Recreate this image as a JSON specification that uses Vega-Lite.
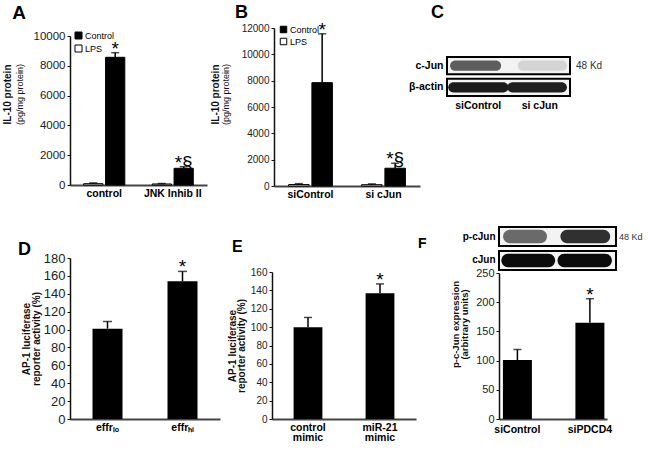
{
"$schema":"https://vega.github.io/schema/vega-lite/v6.json",
"width":649,"height":449,"autosize":{"type":"none"},"padding":0,"background":"white",
"config":{"font":"Liberation Sans","view":{"stroke":null},
 "axis":{"grid":false,"labelFont":"Liberation Sans","titleFont":"Liberation Sans","labelColor":"#222","titleColor":"#111","domainColor":"#111","tickColor":"#111"},
 "legend":{"labelFont":"Liberation Sans"},"text":{"font":"Liberation Sans"}},
"datasets":{
 "A":[{"group":"control","treatment":"LPS","value":90,"upper":140,"star":""},{"group":"control","treatment":"Control","value":8570,"upper":8880,"star":"*"},{"group":"JNK Inhib II","treatment":"LPS","value":70,"upper":100,"star":""},{"group":"JNK Inhib II","treatment":"Control","value":1120,"upper":1230,"star":"*§"}],
 "B":[{"group":"siControl","treatment":"LPS","value":110,"upper":180,"star":""},{"group":"siControl","treatment":"Control","value":7850,"upper":11560,"star":"*"},{"group":"si cJun","treatment":"LPS","value":100,"upper":160,"star":""},{"group":"si cJun","treatment":"Control","value":1350,"upper":1730,"star":"*§"}],
 "Cbox":[{"protein":"c-Jun"},{"protein":"β-actin"}],
 "Cbands":[{"protein":"c-Jun","from":0.05,"to":0.88,"intensity":0.6},{"protein":"c-Jun","from":1.15,"to":1.95,"intensity":0.15},{"protein":"β-actin","from":0.02,"to":1.0,"intensity":0.9},{"protein":"β-actin","from":0.98,"to":1.95,"intensity":0.88}],
 "Fbox":[{"protein":"p-cJun"},{"protein":"cJun"}],
 "Fbands":[{"protein":"p-cJun","from":0.07,"to":0.82,"intensity":0.55},{"protein":"p-cJun","from":1.05,"to":1.9,"intensity":0.8},{"protein":"cJun","from":0.04,"to":0.96,"intensity":0.97},{"protein":"cJun","from":1.0,"to":1.93,"intensity":0.97}],
 "D":[{"group":"effr\u2097\u2092","value":101,"upper":109,"star":""},{"group":"effr\u2095\u1d62","value":154,"upper":165,"star":"*"}],
 "E":[{"group":"control mimic","value":100,"upper":110.5,"star":""},{"group":"miR-21 mimic","value":137,"upper":147,"star":"*"}],
 "F":[{"group":"siControl","value":101,"upper":119,"star":""},{"group":"siPDCD4","value":165,"upper":206,"star":"*"}]
},
"layer":[
 {"data":{"name":"A"},"resolve":{"axis":{"x":"independent","y":"independent"}},
  "layer":[
   {"mark":{"type":"bar","stroke":"black","strokeWidth":1},
    "encoding":{
     "x":{"field":"group","type":"nominal","scale":{"domain":["control","JNK Inhib II"],"range":[70,207],"paddingInner":0.4,"paddingOuter":0.2},"axis":{"orient":"bottom","offset":-264,"title":null,"labelAngle":0,"ticks":false,"domainColor":"#444","domainWidth":2,"labelFontWeight":"bold","labelColor":"#000","labelFontSize":10.5,"labelPadding":3}},
     "xOffset":{"field":"treatment","type":"nominal","scale":{"domain":["LPS","Control"],"paddingInner":0.12}},
     "y":{"field":"value","type":"quantitative","scale":{"domain":[0,10000],"range":[185,36],"nice":false,"zero":true},"axis":{"orient":"left","offset":-70,"values":[0,2000,4000,6000,8000,10000],"format":"d","tickSize":3,"labelFontSize":11.5,"labelPadding":2,"domainWidth":1.5,"title":"(pg/mg protein)","titleFontSize":9,"titleFontWeight":"normal","titlePadding":9,"titleY":94}},
     "fill":{"field":"treatment","type":"nominal","scale":{"domain":["Control","LPS"],"range":["black","white"]},"legend":{"orient":"none","legendX":74,"legendY":31,"title":null,"symbolType":"square","symbolSize":49,"symbolStrokeColor":"black","symbolStrokeWidth":1,"labelFontSize":9,"labelColor":"black","labelOffset":2,"rowPadding":2,"padding":0}}
    }},
   {"mark":{"type":"rule","color":"black","strokeWidth":1.5},
    "encoding":{"x":{"field":"group","type":"nominal","axis":null},"xOffset":{"field":"treatment","type":"nominal"},
     "y":{"field":"value","type":"quantitative","axis":{"orient":"left","offset":-70,"labels":false,"ticks":false,"domain":false,"title":"IL-10 protein","titleFontSize":10,"titleFontWeight":"bold","titlePadding":58,"titleY":94,"minExtent":0}},
     "y2":{"field":"upper"}}},
   {"mark":{"type":"tick","color":"black","size":8,"thickness":1.5},
    "encoding":{"x":{"field":"group","type":"nominal","axis":null},"xOffset":{"field":"treatment","type":"nominal"},"y":{"field":"upper","type":"quantitative","axis":null}}},
   {"mark":{"type":"text","fontSize":19,"baseline":"alphabetic","dy":2,"color":"black"},
    "encoding":{"x":{"field":"group","type":"nominal","axis":null},"xOffset":{"field":"treatment","type":"nominal"},"y":{"field":"upper","type":"quantitative","axis":null},"text":{"field":"star"}}},
   {"data":{"values":[{"panel":"A"}]},
    "mark":{"type":"text","fontSize":19,"fontWeight":"bold","align":"left","baseline":"alphabetic","dx":-92,"color":"black"},
    "encoding":{"x":{"datum":"control","type":"nominal","axis":null},"y":{"datum":11140,"type":"quantitative","axis":null},"text":{"field":"panel"}}}
  ]},
 {"data":{"name":"B"},"resolve":{"axis":{"x":"independent","y":"independent"}},
  "layer":[
   {"mark":{"type":"bar","stroke":"black","strokeWidth":1},
    "encoding":{
     "x":{"field":"group","type":"nominal","scale":{"domain":["siControl","si cJun"],"range":[274,420],"paddingInner":0.4,"paddingOuter":0.2},"axis":{"orient":"bottom","offset":-263,"title":null,"labelAngle":0,"ticks":false,"domainColor":"#444","domainWidth":2,"labelFontWeight":"bold","labelColor":"#000","labelFontSize":10.5,"labelPadding":3}},
     "xOffset":{"field":"treatment","type":"nominal","scale":{"domain":["LPS","Control"],"paddingInner":0.12}},
     "y":{"field":"value","type":"quantitative","scale":{"domain":[0,12000],"range":[186,28],"nice":false,"zero":true},"axis":{"orient":"left","offset":-274,"values":[0,2000,4000,6000,8000,10000,12000],"format":"d","tickSize":3,"labelFontSize":10,"labelPadding":2,"domainWidth":1.5,"title":"(pg/mg protein)","titleFontSize":9,"titleFontWeight":"normal","titlePadding":11,"titleY":94}},
     "fill":{"field":"treatment","type":"nominal","scale":{"domain":["Control","LPS"],"range":["black","white"]},"legend":{"orient":"none","legendX":279,"legendY":25,"title":null,"symbolType":"square","symbolSize":42,"symbolStrokeColor":"black","symbolStrokeWidth":1,"labelFontSize":9,"labelColor":"black","labelOffset":2,"rowPadding":1,"padding":0}}
    }},
   {"mark":{"type":"rule","color":"black","strokeWidth":1.5},
    "encoding":{"x":{"field":"group","type":"nominal","axis":null},"xOffset":{"field":"treatment","type":"nominal"},
     "y":{"field":"value","type":"quantitative","axis":{"orient":"left","offset":-274,"labels":false,"ticks":false,"domain":false,"title":"IL-10 protein","titleFontSize":10,"titleFontWeight":"bold","titlePadding":54,"titleY":94,"minExtent":0}},
     "y2":{"field":"upper"}}},
   {"mark":{"type":"tick","color":"black","size":8,"thickness":1.5},
    "encoding":{"x":{"field":"group","type":"nominal","axis":null},"xOffset":{"field":"treatment","type":"nominal"},"y":{"field":"upper","type":"quantitative","axis":null}}},
   {"mark":{"type":"text","fontSize":19,"baseline":"alphabetic","dy":2,"color":"black"},
    "encoding":{"x":{"field":"group","type":"nominal","axis":null},"xOffset":{"field":"treatment","type":"nominal"},"y":{"field":"upper","type":"quantitative","axis":null},"text":{"field":"star"}}},
   {"data":{"values":[{"panel":"B"}]},
    "mark":{"type":"text","fontSize":18,"fontWeight":"bold","align":"left","baseline":"alphabetic","dx":-75.5,"color":"black"},
    "encoding":{"x":{"datum":"siControl","type":"nominal","axis":null},"y":{"datum":12759,"type":"quantitative","axis":null},"text":{"field":"panel"}}}
  ]},
 {"resolve":{"axis":{"x":"independent","y":"independent"}},
  "layer":[
   {"data":{"name":"Cbox"},"mark":{"type":"bar","fill":"#f3f3f3"},
    "encoding":{
     "y":{"field":"protein","type":"nominal","scale":{"domain":["c-Jun","β-actin"],"range":[57,96],"paddingInner":0.2,"paddingOuter":0},"axis":{"orient":"left","offset":-447,"title":null,"ticks":false,"domain":false,"labelFontWeight":"bold","labelFontSize":10.5,"labelColor":"black","labelPadding":4}},
     "x":{"datum":0,"type":"quantitative","scale":{"domain":[0,2],"range":[447,570],"nice":false,"zero":false},"axis":{"orient":"bottom","offset":-353,"values":[0.5,1.5],"labelExpr":"datum.value < 1 ? 'siControl' : 'si cJun'","title":null,"ticks":false,"domain":false,"labelFontWeight":"bold","labelFontSize":10.5,"labelColor":"black","labelPadding":4}},
     "x2":{"datum":2}}},
   {"data":{"name":"Cbands"},"mark":{"type":"bar","height":{"band":0.6},"cornerRadius":6},
    "encoding":{"y":{"field":"protein","type":"nominal","axis":null},"x":{"field":"from","type":"quantitative","axis":null},"x2":{"field":"to"},
     "fill":{"field":"intensity","type":"quantitative","scale":{"domain":[0,1],"range":["#ffffff","#000000"]},"legend":null}}},
   {"data":{"name":"Cbox"},"mark":{"type":"bar","filled":false,"color":"black","strokeWidth":2},
    "encoding":{"y":{"field":"protein","type":"nominal","axis":null},"x":{"datum":0,"type":"quantitative","axis":null},"x2":{"datum":2}}},
   {"data":{"values":[{"label":"48 Kd"}]},"mark":{"type":"text","align":"left","baseline":"middle","dx":6,"fontSize":10,"color":"#333"},
    "encoding":{"x":{"datum":2,"type":"quantitative","axis":null},"y":{"datum":"c-Jun","type":"nominal","axis":null},"text":{"field":"label"}}},
   {"data":{"values":[{"panel":"C"}]},"mark":{"type":"text","fontSize":18,"fontWeight":"bold","align":"left","baseline":"alphabetic","dx":-16,"dy":-47.7,"color":"black"},
    "encoding":{"x":{"datum":0,"type":"quantitative","axis":null},"y":{"datum":"c-Jun","type":"nominal","axis":null},"text":{"field":"panel"}}}
  ]},
 {"data":{"name":"D"},"resolve":{"axis":{"x":"independent","y":"independent"}},
  "layer":[
   {"mark":{"type":"bar","fill":"black"},
    "encoding":{
     "x":{"field":"group","type":"nominal","scale":{"domain":["effr\u2097\u2092","effr\u2095\u1d62"],"range":[70,220],"paddingInner":0.6,"paddingOuter":0.3},"axis":{"orient":"bottom","offset":-30,"title":null,"labelAngle":0,"ticks":false,"domainColor":"#444","domainWidth":2,"labelFontWeight":"bold","labelColor":"#000","labelFontSize":10.5,"labelPadding":3}},
     "y":{"field":"value","type":"quantitative","scale":{"domain":[0,180],"range":[419,258],"nice":false,"zero":true},"axis":{"orient":"left","offset":-70,"values":[0,20,40,60,80,100,120,140,160,180],"tickSize":3,"labelFontSize":13,"labelPadding":2,"domainWidth":1.5,"title":["AP-1  luciferase","reporter activity (%)"],"titleFontSize":10,"titleFontWeight":"bold","titleLineHeight":9.5,"titlePadding":2}}
    }},
   {"mark":{"type":"rule","color":"black","strokeWidth":1.5},
    "encoding":{"x":{"field":"group","type":"nominal","axis":null},"y":{"field":"value","type":"quantitative","axis":null},"y2":{"field":"upper"}}},
   {"mark":{"type":"tick","color":"black","size":9,"thickness":1.5},
    "encoding":{"x":{"field":"group","type":"nominal","axis":null},"y":{"field":"upper","type":"quantitative","axis":null}}},
   {"mark":{"type":"text","fontSize":19,"baseline":"alphabetic","dy":2,"color":"black"},
    "encoding":{"x":{"field":"group","type":"nominal","axis":null},"y":{"field":"upper","type":"quantitative","axis":null},"text":{"field":"star"}}},
   {"data":{"values":[{"panel":"D"}]},
    "mark":{"type":"text","fontSize":18,"fontWeight":"bold","align":"left","baseline":"alphabetic","dx":-89.5,"color":"black"},
    "encoding":{"x":{"datum":"effr\u2097\u2092","type":"nominal","axis":null},"y":{"datum":183.4,"type":"quantitative","axis":null},"text":{"field":"panel"}}}
  ]},
 {"data":{"name":"E"},"resolve":{"axis":{"x":"independent","y":"independent"}},
  "layer":[
   {"mark":{"type":"bar","fill":"black"},
    "encoding":{
     "x":{"field":"group","type":"nominal","scale":{"domain":["control mimic","miR-21 mimic"],"range":[272,416],"paddingInner":0.6,"paddingOuter":0.3},"axis":{"orient":"bottom","offset":-30,"title":null,"labelAngle":0,"ticks":false,"domainColor":"#444","domainWidth":2,"labelFontWeight":"bold","labelColor":"#000","labelFontSize":10.5,"labelPadding":3,"labelLineHeight":10.5,"labelExpr":"split(datum.label, ' ')"}},
     "y":{"field":"value","type":"quantitative","scale":{"domain":[0,160],"range":[419,272],"nice":false,"zero":true},"axis":{"orient":"left","offset":-272,"values":[0,20,40,60,80,100,120,140,160],"tickSize":3,"labelFontSize":10,"labelPadding":2,"domainWidth":1.5,"title":["AP-1  luciferase","reporter activity (%)"],"titleFontSize":10,"titleFontWeight":"bold","titleLineHeight":9,"titlePadding":4}}
    }},
   {"mark":{"type":"rule","color":"black","strokeWidth":1.5},
    "encoding":{"x":{"field":"group","type":"nominal","axis":null},"y":{"field":"value","type":"quantitative","axis":null},"y2":{"field":"upper"}}},
   {"mark":{"type":"tick","color":"black","size":8,"thickness":1.5},
    "encoding":{"x":{"field":"group","type":"nominal","axis":null},"y":{"field":"upper","type":"quantitative","axis":null}}},
   {"mark":{"type":"text","fontSize":19,"baseline":"alphabetic","dy":2,"color":"black"},
    "encoding":{"x":{"field":"group","type":"nominal","axis":null},"y":{"field":"upper","type":"quantitative","axis":null},"text":{"field":"star"}}},
   {"data":{"values":[{"panel":"E"}]},
    "mark":{"type":"text","fontSize":16,"fontWeight":"bold","align":"left","baseline":"alphabetic","dx":-76,"color":"black"},
    "encoding":{"x":{"datum":"control mimic","type":"nominal","axis":null},"y":{"datum":181.8,"type":"quantitative","axis":null},"text":{"field":"panel"}}}
  ]},
 {"resolve":{"axis":{"x":"independent","y":"independent"}},
  "layer":[
   {"data":{"name":"Fbox"},"mark":{"type":"bar","fill":"#f3f3f3"},
    "encoding":{
     "y":{"field":"protein","type":"nominal","scale":{"domain":["p-cJun","cJun"],"range":[227,270],"paddingInner":0.2,"paddingOuter":0},"axis":{"orient":"left","offset":-499,"title":null,"ticks":false,"domain":false,"labelFontWeight":"bold","labelFontSize":10,"labelColor":"black","labelPadding":4}},
     "x":{"datum":0,"type":"quantitative","scale":{"domain":[0,2],"range":[499,616],"nice":false,"zero":false},"axis":null},
     "x2":{"datum":2}}},
   {"data":{"name":"Fbands"},"mark":{"type":"bar","height":{"band":0.7},"cornerRadius":7},
    "encoding":{"y":{"field":"protein","type":"nominal","axis":null},"x":{"field":"from","type":"quantitative","axis":null},"x2":{"field":"to"},
     "fill":{"field":"intensity","type":"quantitative","scale":{"domain":[0,1],"range":["#ffffff","#000000"]},"legend":null}}},
   {"data":{"name":"Fbox"},"mark":{"type":"bar","filled":false,"color":"black","strokeWidth":2},
    "encoding":{"y":{"field":"protein","type":"nominal","axis":null},"x":{"datum":0,"type":"quantitative","axis":null},"x2":{"datum":2}}},
   {"data":{"values":[{"label":"48 Kd"}]},"mark":{"type":"text","align":"left","baseline":"middle","dx":3,"fontSize":9,"color":"#333"},
    "encoding":{"x":{"datum":2,"type":"quantitative","axis":null},"y":{"datum":"p-cJun","type":"nominal","axis":null},"text":{"field":"label"}}}
  ]},
 {"data":{"name":"F"},"resolve":{"axis":{"x":"independent","y":"independent"}},
  "layer":[
   {"mark":{"type":"bar","fill":"black"},
    "encoding":{
     "x":{"field":"group","type":"nominal","scale":{"domain":["siControl","siPDCD4"],"range":[499,607],"paddingInner":0.6,"paddingOuter":0.045,"align":0.6},"axis":{"orient":"bottom","offset":-30,"title":null,"labelAngle":0,"ticks":false,"domainColor":"#444","domainWidth":2,"labelFontWeight":"bold","labelColor":"#000","labelFontSize":10.5,"labelPadding":5}},
     "y":{"field":"value","type":"quantitative","scale":{"domain":[0,250],"range":[419,273],"nice":false,"zero":true},"axis":{"orient":"left","offset":-499,"values":[0,50,100,150,200,250],"tickSize":3,"labelFontSize":11,"labelPadding":2,"domainWidth":1.5,"title":["p-c-Jun expression","(arbitrary units)"],"titleFontSize":9.5,"titleFontWeight":"bold","titleLineHeight":9.5,"titlePadding":6,"titleY":324}}
    }},
   {"mark":{"type":"rule","color":"black","strokeWidth":1.5},
    "encoding":{"x":{"field":"group","type":"nominal","axis":null},"y":{"field":"value","type":"quantitative","axis":null},"y2":{"field":"upper"}}},
   {"mark":{"type":"tick","color":"black","size":8,"thickness":1.5},
    "encoding":{"x":{"field":"group","type":"nominal","axis":null},"y":{"field":"upper","type":"quantitative","axis":null}}},
   {"mark":{"type":"text","fontSize":19,"baseline":"alphabetic","dy":2,"color":"black"},
    "encoding":{"x":{"field":"group","type":"nominal","axis":null},"y":{"field":"upper","type":"quantitative","axis":null},"text":{"field":"star"}}},
   {"data":{"values":[{"panel":"F"}]},
    "mark":{"type":"text","fontSize":14,"fontWeight":"bold","align":"left","baseline":"alphabetic","dx":-99.4,"color":"black"},
    "encoding":{"x":{"datum":"siControl","type":"nominal","axis":null},"y":{"datum":292.8,"type":"quantitative","axis":null},"text":{"field":"panel"}}}
  ]}
],
"resolve":{"scale":{"x":"independent","y":"independent","xOffset":"independent","fill":"independent"},"axis":{"x":"independent","y":"independent"}}
}
